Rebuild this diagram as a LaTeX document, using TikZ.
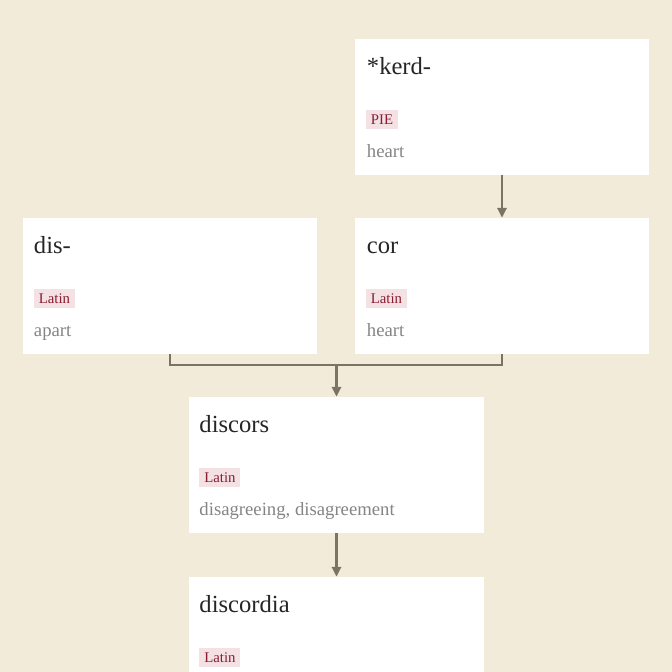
\documentclass[tikz,border=0pt]{standalone}
\usepackage{fontspec}
\setmainfont{Liberation Serif}
\usetikzlibrary{arrows.meta}
\definecolor{paper}{HTML}{F2EBDA}
\definecolor{tagred}{HTML}{8A1C32}
\definecolor{tagbg}{HTML}{F4E1E4}
\definecolor{glossgray}{HTML}{858585}
\definecolor{linkgray}{HTML}{7B7464}
\tikzset{
  card/.style={fill=white,minimum width=7.35cm,minimum height=3.4cm,inner sep=0pt},
  word/.style={anchor=base west,inner sep=0pt,text=black!85,font=\fontsize{17.5}{20}\selectfont},
  lang/.style={anchor=base west,fill=tagbg,text=tagred,inner xsep=3.5pt,inner ysep=1.5pt,
    text height=9.2pt,text depth=1.3pt,font=\fontsize{10.5}{12}\selectfont},
  gloss/.style={anchor=base west,inner sep=0pt,text=glossgray,font=\fontsize{13.3}{15}\selectfont},
  link/.style={draw=linkgray,line width=1.8pt},
  linkarrow/.style={link,-{Triangle[length=7pt,width=6.5pt]}}
}
\begin{document}
\begin{tikzpicture}[x=0.025cm,y=-0.025cm]
  \useasboundingbox (0,0) rectangle (672,672);
  \fill[paper] (0,0) rectangle (672,672);
  \clip (0,0) rectangle (672,672);
  % cards
  \node[card] (kerd) at (502,107) {};
  \node[card] (dis) at (170,286) {};
  \node[card] (cor) at (502,286) {};
  \node[card] (discors) at (336.5,465) {};
  \node[card] (discordia) at (336.5,645) {};
  % texts
  \node[word] (kerdw) at ([shift={(12,36)}]kerd.north west) {*kerd-};
  \node[lang] (kerdl) at ([shift={(11,86)}]kerd.north west) {PIE};
  \node[gloss] (kerdg) at ([shift={(12,119)}]kerd.north west) {heart};
  \node[word] (disw) at ([shift={(11,36)}]dis.north west) {dis-};
  \node[lang] (disl) at ([shift={(11,86)}]dis.north west) {Latin};
  \node[gloss] (disg) at ([shift={(11,119)}]dis.north west) {apart};
  \node[word] (corw) at ([shift={(12,36)}]cor.north west) {cor};
  \node[lang] (corl) at ([shift={(11,86)}]cor.north west) {Latin};
  \node[gloss] (corg) at ([shift={(12,119)}]cor.north west) {heart};
  \node[word] (discorsw) at ([shift={(10,36)}]discors.north west) {discors};
  \node[lang] (discorsl) at ([shift={(10,86)}]discors.north west) {Latin};
  \node[gloss] (discorsg) at ([shift={(10,119)}]discors.north west) {disagreeing, disagreement};
  \node[word] (discordiaw) at ([shift={(10,36)}]discordia.north west) {discordia};
  \node[lang] (discordial) at ([shift={(10,86)}]discordia.north west) {Latin};
  % links
  \coordinate (join) at (336.5,365);
  \draw[linkarrow] (kerd.south) -- (cor.north);
  \draw[link] (dis.south) |- (join) -| (cor.south);
  \draw[linkarrow] (join) -- (discors.north);
  \draw[linkarrow] (discors.south) -- (discordia.north);
\end{tikzpicture}
\end{document}
